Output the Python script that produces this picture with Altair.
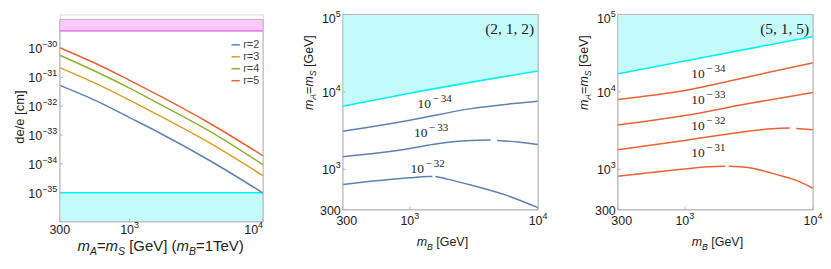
import altair as alt
import pandas as pd
import numpy as np

SANS = "Liberation Sans"
SERIF = "Liberation Serif"

# ---------------- data ----------------
# Panel 1: de/e vs m_A = m_S (m_B = 1 TeV)
mass = [300, 605, 1000, 1563, 4036, 10000]
de_r2 = [5.2e-32, 1.3e-32, 4.0e-33, 1.4e-33, 1.26e-34, 9.8e-36]
de_r3 = [2.15e-31, 5.1e-32, 1.6e-32, 5.5e-33, 5.1e-34, 3.9e-35]
de_r4 = [5.75e-31, 1.32e-31, 4.2e-32, 1.4e-32, 1.3e-33, 9.3e-35]
de_r5 = [1.05e-30, 2.5e-31, 7.8e-32, 2.7e-32, 2.45e-33, 1.9e-34]
r_labels = ["r=2", "r=3", "r=4", "r=5"]
r_colors = ["#5E81B5", "#E19C24", "#8FB032", "#EB6235"]
pink_band = [4e-30, 1e-29]
cyan_band = [1e-36, 1e-35]
p1_xticks = [300, 1000, 10000]
p1_yticks = [1e-35, 1e-34, 1e-33, 1e-32, 1e-31, 1e-30]

# Panel 2: (2,1,2) contours in (m_B, m_A=m_S)
p2_cyan_x = [300, 1000, 10000]
p2_cyan_y = [6500, 9600, 18600]
p2_c34 = {"A": ([300, 1000, 3000, 10000], [3100, 4300, 6070, 7570])}
p2_c33 = {"A": ([300, 1000, 1500, 3000, 4270], [1450, 1853, 2090, 2350, 2380]),
          "B": ([4790, 7000, 10000], [2360, 2250, 2090])}
p2_c32 = {"A": ([300, 1000, 1400, 1500], [637, 776, 805, 807]),
          "B": ([1580, 2000, 3000, 5560, 10000], [805, 740, 625, 466, 319])}
p2_labels_x = [1460, 1370, 1290]
p2_labels_y = [6200, 2620, 883]
p2_labels_exp = ["34", "33", "32"]

# Panel 3: (5,1,5)
p3_cyan_x = [300, 1000, 10000]
p3_cyan_y = [17100, 25000, 52000]
p3_c34 = {"A": ([300, 1000, 3160, 10000], [7960, 10400, 15700, 23700])}
p3_c33 = {"A": ([300, 1000, 3160, 10000], [3740, 4940, 7080, 9800])}
p3_c32 = {"A": ([300, 1000, 3000, 5560, 6600], [1780, 2350, 3070, 3390, 3400]),
          "B": ([7400, 10000], [3370, 3230])}
p3_c31 = {"A": ([300, 1000, 1500, 2070], [813, 1009, 1075, 1094]),
          "B": ([2200, 3000, 5560, 7500, 10000], [1092, 1062, 828, 713, 568])}
p3_labels_x = [1430, 1430, 1430, 1430]
p3_labels_y = [15100, 7050, 3200, 1450]
p3_labels_exp = ["34", "33", "32", "31"]

p23_xticks = [300, 1000, 10000]
p23_yticks = [300, 1000, 10000, 100000]

FRAME = "#B5B5B5"
LABEL_C = "#222222"
CYAN_FILL = "#C4FAFA"
CYAN_LINE = "#00F2F2"
PINK_FILL = "#FDC8FB"
PINK_LINE = "#F07EEE"
MINUS = "\u2212"

one = pd.DataFrame({"k": [0]})

AR = {'m': 833, 'A': 667, '=': 584, 'S': 667, ' ': 278, '[': 278, 'G': 778, 'e': 556,
      'V': 667, ']': 278, '(': 333, 'B': 667, '1': 556, 'T': 611, ')': 333, MINUS: 584,
      '0': 556, '2': 556, '3': 556, '4': 556, '5': 556, '6': 556, '7': 556, '8': 556, '9': 556}


def tw(s, fs):
    return sum(AR[c] for c in s) / 1000 * fs


def split_label(v):
    if abs(v - 300) < 1e-6:
        return "300", ""
    e = int(round(np.log10(v)))
    return "10", str(e).replace("-", MINUS)


def txt(data, **kw):
    base = dict(font=SANS, color=LABEL_C, baseline="middle")
    base.update(kw)
    return alt.Chart(data).mark_text(**base)


def ylabels(vals, scale, fs, efs, gap, base_dy, exp_dy, push_top=0):
    rows = [dict(v=v, b=split_label(v)[0], e=split_label(v)[1]) for v in vals]
    out = []
    top = max(vals)
    for grp, sel in (("n", [r for r in rows if r["v"] != top or push_top == 0]),
                     ("p", [r for r in rows if r["v"] == top and push_top != 0])):
        if not sel:
            continue
        extra = push_top if grp == "p" else 0
        plain = pd.DataFrame([r for r in sel if r["e"] == ""])
        power = pd.DataFrame([r for r in sel if r["e"] != ""])
        if len(plain):
            out.append(txt(plain, fontSize=fs, align="right", dy=base_dy + extra).encode(
                y=alt.Y("v:Q", scale=scale), x=alt.value(-gap), text="b:N"))
        if len(power):
            we = tw(power["e"].iloc[0], efs)
            out.append(txt(power, fontSize=efs, align="right", dy=exp_dy + extra).encode(
                y=alt.Y("v:Q", scale=scale), x=alt.value(-gap), text="e:N"))
            out.append(txt(power, fontSize=fs, align="right", dy=base_dy + extra).encode(
                y=alt.Y("v:Q", scale=scale), x=alt.value(-gap - we), text="b:N"))
    return out


def xlabels(vals, scale, fs, efs, ypos, exp_dy, flush_last=False, plain_dx=0):
    rows = [dict(v=v, b=split_label(v)[0], e=split_label(v)[1]) for v in vals]
    last = max(vals)
    out = []
    plain = pd.DataFrame([r for r in rows if r["e"] == ""])
    cen = pd.DataFrame([r for r in rows if r["e"] != "" and not (flush_last and r["v"] == last)])
    fl = pd.DataFrame([r for r in rows if r["e"] != "" and flush_last and r["v"] == last])
    if len(plain):
        out.append(txt(plain, fontSize=fs, align="center", dx=plain_dx).encode(
            x=alt.X("v:Q", scale=scale), y=alt.value(ypos), text="b:N"))
    if len(cen):
        we = tw(cen["e"].iloc[0], efs)
        wb = tw("10", fs)
        d = (wb - we) / 2
        out.append(txt(cen, fontSize=fs, align="right", dx=d).encode(
            x=alt.X("v:Q", scale=scale), y=alt.value(ypos), text="b:N"))
        out.append(txt(cen, fontSize=efs, align="left", dx=d, dy=exp_dy).encode(
            x=alt.X("v:Q", scale=scale), y=alt.value(ypos), text="e:N"))
    if len(fl):
        we = tw(fl["e"].iloc[0], efs)
        out.append(txt(fl, fontSize=fs, align="right", dx=-we).encode(
            x=alt.X("v:Q", scale=scale), y=alt.value(ypos), text="b:N"))
        out.append(txt(fl, fontSize=efs, align="right", dy=exp_dy).encode(
            x=alt.X("v:Q", scale=scale), y=alt.value(ypos), text="e:N"))
    return out


def _piece(t, k, fs):
    sfs = fs * 0.7
    size = sfs if k == "sub" else fs
    lead = len(t) - len(t.lstrip(" "))
    return t.strip(" "), size, lead * 0.278 * size, tw(t, size)


def htitle(pieces, cx, y, fs):
    sfs = fs * 0.7
    info = [_piece(t, k, fs) for t, k in pieces]
    x = cx - sum(i[3] for i in info) / 2
    out = []
    for (t, k), (s, size, lead, w) in zip(pieces, info):
        out.append(alt.Chart(one).mark_text(
            text=s, align="left", baseline="alphabetic", font=SANS, fontSize=size,
            fontStyle="italic" if k in ("it", "sub") else "normal", color=LABEL_C
        ).encode(x=alt.value(x + lead), y=alt.value(y + (sfs * 0.4 if k == "sub" else 0))))
        x += w
    return out


def vtitle(pieces, xb, ystart, fs):
    sfs = fs * 0.7
    y = ystart
    out = []
    for t, k in pieces:
        s, size, lead, w = _piece(t, k, fs)
        out.append(alt.Chart(one).mark_text(
            text=s, align="left", baseline="alphabetic", font=SANS, angle=270, fontSize=size,
            fontStyle="italic" if k in ("it", "sub") else "normal", color=LABEL_C
        ).encode(x=alt.value(xb + (sfs * 0.4 if k == "sub" else 0)), y=alt.value(y - lead)))
        y -= w
    return out


def frame(w, top, bottom):
    return alt.Chart(one).mark_rect(fillOpacity=0, stroke=FRAME, strokeWidth=1).encode(
        x=alt.value(0), x2=alt.value(w), y=alt.value(top), y2=alt.value(bottom))


# ---------------- panel 1 ----------------
W1 = 204
T1, B1 = 5, 208          # plot area of panel 1 sits 5px lower than panels 2/3
rows = []
for lbl, arr in zip(r_labels, [de_r2, de_r3, de_r4, de_r5]):
    for m, v in zip(mass, arr):
        rows.append({"m": m, "de": v, "r": lbl})
df1 = pd.DataFrame(rows)

xs1 = alt.Scale(type="log", domain=[300, 10000], nice=False)
ys1 = alt.Scale(type="log", domain=[1e-36, 1e-29], nice=False, range=[B1, T1])

bands = pd.DataFrame({"x": [300, 300], "x2": [10000, 10000],
                      "lo": [pink_band[0], cyan_band[0]], "hi": [pink_band[1], cyan_band[1]],
                      "kind": ["pink", "cyan"]})

p1_rect = alt.Chart(bands).mark_rect(strokeWidth=0).encode(
    x=alt.X("x:Q", scale=xs1, axis=None),
    x2="x2:Q",
    y=alt.Y("lo:Q", scale=ys1, axis=None),
    y2="hi:Q",
    color=alt.Color("kind:N", scale=alt.Scale(domain=["pink", "cyan"], range=[PINK_FILL, CYAN_FILL]), legend=None),
)
band_lines = pd.DataFrame({"y": [pink_band[0], cyan_band[1]], "kind": ["pink", "cyan"]})
p1_rules = alt.Chart(band_lines).mark_rule(strokeWidth=1.6).encode(
    y=alt.Y("y:Q", scale=ys1),
    color=alt.Color("kind:N", scale=alt.Scale(domain=["pink", "cyan"], range=[PINK_LINE, CYAN_LINE]), legend=None),
)
p1_lines = alt.Chart(df1).mark_line(strokeWidth=1.5, interpolate="monotone").encode(
    x=alt.X("m:Q", scale=xs1),
    y=alt.Y("de:Q", scale=ys1),
    color=alt.Color("r:N", scale=alt.Scale(domain=r_labels, range=r_colors),
                    legend=alt.Legend(orient="none", legendX=171, legendY=T1 + 20, title=None,
                                      symbolType="stroke", symbolSize=70, symbolStrokeWidth=1.5,
                                      labelFont=SANS, labelFontSize=11, labelColor="#444444",
                                      labelOffset=2, rowPadding=0, padding=0)),
)
p1_tick_y = alt.Chart(pd.DataFrame({"v": p1_yticks})).mark_rule(color=FRAME, strokeWidth=1).encode(
    y=alt.Y("v:Q", scale=ys1), x=alt.value(0), x2=alt.value(3))
p1_tick_x = alt.Chart(pd.DataFrame({"v": p1_xticks})).mark_rule(color=FRAME, strokeWidth=1).encode(
    x=alt.X("v:Q", scale=xs1), y=alt.value(B1), y2=alt.value(B1 - 3))

p1_title = htitle([("m", "it"), ("A", "sub"), ("=", "rm"), ("m", "it"), ("S", "sub"),
                   (" [GeV] (", "rm"), ("m", "it"), ("B", "sub"), ("=1TeV)", "rm")],
                  102, T1 + 232, 15)
p1_ytitle = alt.Chart(one).mark_text(text="de/e [cm]", font=SANS, fontSize=13, angle=270,
                                     align="center", baseline="alphabetic", color=LABEL_C).encode(
    x=alt.value(-36), y=alt.value(T1 + 98))

p1_ylab = ylabels(p1_yticks, ys1, 12.5, 9, 2.5, 1, -4)
p1_xlab = xlabels(p1_xticks, xs1, 12.5, 9, B1 + 8.5, -5, flush_last=True)

panel1 = alt.layer(p1_rect, p1_rules, p1_tick_y, p1_tick_x, p1_lines, frame(W1, T1, B1), p1_ytitle,
                   *p1_ylab, *p1_xlab, *p1_title).resolve_scale(
    color="independent").properties(width=W1, height=B1)


# ---------------- panels 2 & 3 ----------------
W2, H2 = 196, 196
xs2 = alt.Scale(type="log", domain=[300, 10000], nice=False)
ys2 = alt.Scale(type="log", domain=[300, 100000], nice=False)


def contour_df(dicts, names):
    rows = []
    for d, n in zip(dicts, names):
        for seg, (xv, yv) in d.items():
            for a, b in zip(xv, yv):
                rows.append({"mB": a, "mA": b, "seg": n + seg})
    return pd.DataFrame(rows)


def panel(cyan_x, cyan_y, contours, names, lx, ly, lexp, color, tag):
    cyan = pd.DataFrame({"mB": cyan_x, "mA": cyan_y, "top": [100000] * len(cyan_x)})
    area = alt.Chart(cyan).mark_area(color=CYAN_FILL, interpolate="monotone").encode(
        x=alt.X("mB:Q", scale=xs2, axis=None),
        y=alt.Y("mA:Q", scale=ys2, axis=None),
        y2="top:Q",
    )
    cline = alt.Chart(cyan).mark_line(color=CYAN_LINE, strokeWidth=1.6, interpolate="monotone").encode(
        x=alt.X("mB:Q", scale=xs2), y=alt.Y("mA:Q", scale=ys2))
    cdf = contour_df(contours, names)
    lines = alt.Chart(cdf).mark_line(color=color, strokeWidth=1.5, interpolate="monotone").encode(
        x=alt.X("mB:Q", scale=xs2), y=alt.Y("mA:Q", scale=ys2), detail="seg:N")
    ldf = pd.DataFrame({"mB": lx, "mA": ly, "base": ["10"] * len(lx),
                        "exp": [MINUS + "\u2009" + e for e in lexp]})
    base = alt.Chart(ldf).mark_text(font=SERIF, fontSize=13.5, align="right", baseline="alphabetic",
                                    color=LABEL_C).encode(
        x=alt.X("mB:Q", scale=xs2), y=alt.Y("mA:Q", scale=ys2), text="base:N")
    expo = alt.Chart(ldf).mark_text(font=SERIF, fontSize=11, align="left", baseline="alphabetic",
                                    dx=1.5, dy=-6, color=LABEL_C).encode(
        x=alt.X("mB:Q", scale=xs2), y=alt.Y("mA:Q", scale=ys2), text="exp:N")
    tagt = alt.Chart(one).mark_text(text=tag, font=SERIF, fontSize=15.5, align="right",
                                    baseline="alphabetic", color=LABEL_C).encode(
        x=alt.value(192), y=alt.value(19.5))
    ty = alt.Chart(pd.DataFrame({"v": p23_yticks})).mark_rule(color=FRAME).encode(
        y=alt.Y("v:Q", scale=ys2), x=alt.value(0), x2=alt.value(3))
    tx = alt.Chart(pd.DataFrame({"v": p23_xticks})).mark_rule(color=FRAME).encode(
        x=alt.X("v:Q", scale=xs2), y=alt.value(H2), y2=alt.value(H2 - 3))
    xt = htitle([("m", "it"), ("B", "sub"), (" [GeV]", "rm")], 100, 232.7, 12.5)
    yt = vtitle([("m", "it"), ("A", "sub"), ("=", "rm"), ("m", "it"), ("S", "sub"), (" [GeV]", "rm")],
                -30, 96, 12.5)
    yl = ylabels(p23_yticks, ys2, 12.5, 9, 2, 1.2, -3.8, push_top=3)
    xl = xlabels(p23_xticks, xs2, 12.5, 9, H2 + 11, -5, plain_dx=4)
    return alt.layer(area, cline, ty, tx, lines, frame(W2, 0, H2), base, expo, tagt,
                     *yl, *xl, *xt, *yt).properties(width=W2, height=H2)


panel2 = panel(p2_cyan_x, p2_cyan_y, [p2_c34, p2_c33, p2_c32], ["c34", "c33", "c32"],
               p2_labels_x, p2_labels_y, p2_labels_exp, "#5E81B5", "(2, 1, 2)")
panel3 = panel(p3_cyan_x, p3_cyan_y, [p3_c34, p3_c33, p3_c32, p3_c31], ["c34", "c33", "c32", "c31"],
               p3_labels_x, p3_labels_y, p3_labels_exp, "#EB6235", "(5, 1, 5)")

chart = alt.hconcat(panel1, panel2, panel3, spacing=80, bounds="flush").properties(
    padding={"left": 5, "top": 0, "right": 0, "bottom": 0}).configure_view(
    stroke=None).configure(background="white")

chart.save("out.html", embed_options={"renderer": "svg", "actions": False})
